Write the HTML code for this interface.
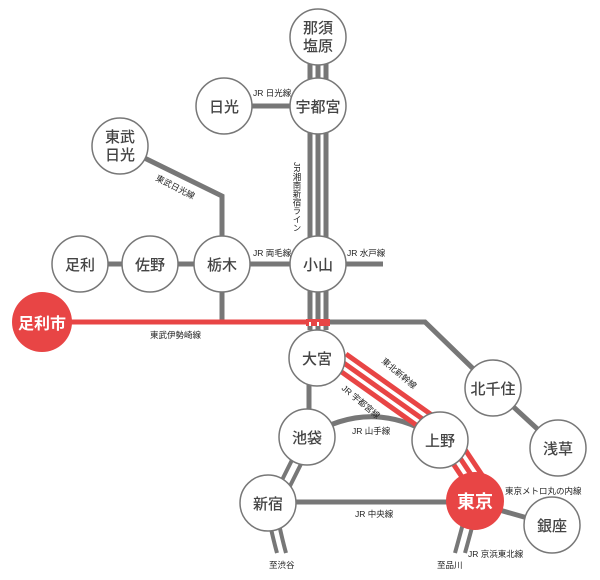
<!DOCTYPE html>
<html><head><meta charset="utf-8"><style>
body{margin:0;background:#fff}
text{font-family:"Liberation Sans","Noto Sans CJK JP",sans-serif}
.s{font-size:8.5px;fill:#222}
.n{font-size:15px;fill:#444;text-anchor:middle;font-weight:500}
</style></head><body>
<svg width="600" height="575" viewBox="0 0 600 575" xmlns="http://www.w3.org/2000/svg">
<g fill="none" stroke="#777" stroke-width="5">
<line x1="310" y1="40" x2="310" y2="330"/>
<line x1="318" y1="40" x2="318" y2="330"/>
<line x1="326" y1="40" x2="326" y2="330"/>
<line x1="224" y1="106" x2="318" y2="106"/>
<polyline points="120,146 222,196 222,322"/>
<line x1="80" y1="264" x2="383" y2="264"/>
<polyline points="327,322 425,322 493,388"/>
<line x1="493" y1="388" x2="558" y2="448"/>
<line x1="309" y1="358" x2="309" y2="437"/>
<path d="M307,437 Q374,395 440,440"/>
<line x1="268" y1="502" x2="475" y2="502"/>
<line x1="475" y1="503" x2="552" y2="525"/>
<line x1="302" y1="440" x2="272" y2="500" stroke-width="4"/>
<line x1="311" y1="444" x2="280" y2="506" stroke-width="4"/>
<path d="M266,505 Q272,535 277,553" stroke-width="4"/>
<path d="M275,505 Q281,535 286,553" stroke-width="4"/>
<path d="M468,505 Q460,535 455,553" stroke-width="4"/>
<path d="M478,505 Q470,535 465,553" stroke-width="4"/>
</g>
<line x1="42" y1="322" x2="329" y2="322" stroke="#e84545" stroke-width="5"/>
<rect x="306" y="319" width="24" height="7" fill="#e84545"/>
<line x1="310" y1="322" x2="310" y2="326" stroke="#fff" stroke-width="2"/>
<line x1="318" y1="322" x2="318" y2="326" stroke="#fff" stroke-width="2"/>
<g stroke="#e84545" stroke-width="5">
<line x1="346" y1="354" x2="436" y2="418"/>
<line x1="341" y1="361" x2="431" y2="425"/>
<line x1="336" y1="368" x2="426" y2="432"/>
<line x1="446" y1="453" x2="468" y2="486"/>
<line x1="454" y1="449" x2="476" y2="482"/>
<line x1="462" y1="445" x2="484" y2="478"/>
</g>
<g fill="#fff" stroke="#777" stroke-width="1.5">
<circle cx="318" cy="37" r="28"/>
<circle cx="318" cy="106" r="28"/>
<circle cx="224" cy="106" r="28"/>
<circle cx="120" cy="146" r="28"/>
<circle cx="80" cy="264" r="28"/>
<circle cx="150" cy="264" r="28"/>
<circle cx="222" cy="264" r="28"/>
<circle cx="318" cy="264" r="28"/>
<circle cx="317" cy="358" r="28"/>
<circle cx="493" cy="388" r="28"/>
<circle cx="558" cy="448" r="28"/>
<circle cx="307" cy="437" r="28"/>
<circle cx="440" cy="440" r="28"/>
<circle cx="268" cy="503" r="28"/>
<circle cx="552" cy="525" r="28"/>
</g>
<circle cx="42" cy="322" r="30" fill="#e84545"/>
<circle cx="475" cy="501" r="29" fill="#e84545"/>
<text class="n" x="318" y="33">那須</text><text class="n" x="318" y="51">塩原</text>
<text class="n" x="318" y="112">宇都宮</text>
<text class="n" x="224" y="112">日光</text>
<text class="n" x="120" y="142">東武</text><text class="n" x="120" y="160">日光</text>
<text class="n" x="80" y="270">足利</text>
<text class="n" x="150" y="270">佐野</text>
<text class="n" x="222" y="270">栃木</text>
<text class="n" x="318" y="270">小山</text>
<text class="n" x="317" y="364">大宮</text>
<text class="n" x="493" y="394">北千住</text>
<text class="n" x="558" y="454">浅草</text>
<text class="n" x="307" y="443">池袋</text>
<text class="n" x="440" y="446">上野</text>
<text class="n" x="268" y="509">新宿</text>
<text class="n" x="552" y="531">銀座</text>
<text class="n" x="42" y="329" style="fill:#fff;font-size:16px;font-weight:bold">足利市</text>
<text class="n" x="475" y="508" style="fill:#fff;font-size:18px;font-weight:bold">東京</text>
<text class="s" x="253" y="96">JR 日光線</text>
<text class="s" x="253" y="256">JR 両毛線</text>
<text class="s" x="347" y="256">JR 水戸線</text>
<text class="s" x="150" y="338">東武伊勢崎線</text>
<text class="s" x="155" y="180" transform="rotate(27 155 180)">東武日光線</text>
<text class="s" x="297" y="162" style="writing-mode:tb;glyph-orientation-vertical:0">JR湘南新宿ライン</text>
<text class="s" x="381" y="362" transform="rotate(40 381 362)">東北新幹線</text>
<text class="s" x="341" y="389" transform="rotate(40 341 389)">JR 宇都宮線</text>
<text class="s" x="352" y="434">JR 山手線</text>
<text class="s" x="355" y="517">JR 中央線</text>
<text class="s" x="505" y="494">東京メトロ丸の内線</text>
<text class="s" x="468" y="557">JR 京浜東北線</text>
<text class="s" x="269" y="568">至渋谷</text>
<text class="s" x="437" y="568">至品川</text>
</svg>
</body></html>
